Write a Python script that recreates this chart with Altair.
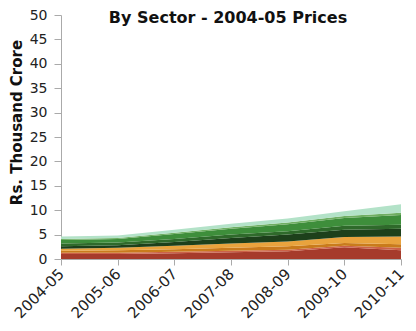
import altair as alt
import pandas as pd

years = ["2004-05", "2005-06", "2006-07", "2007-08", "2008-09", "2009-10", "2010-11"]
sectors = ["S1", "S2", "S3", "S4", "S5", "S6", "S7", "S8", "S9"]
colors = ["#a63b2b", "#cc6248", "#c97b1c", "#e9a33d", "#1d401b", "#2f6a2b", "#3e8e3b", "#6fae62", "#b3e2c8"]
s1 = [1.0, 1.0, 1.2, 1.4, 1.6, 2.4, 1.8]
s2 = [0.3, 0.3, 0.3, 0.3, 0.3, 0.3, 0.5]
s3 = [0.4, 0.5, 0.5, 0.6, 0.7, 0.6, 0.7]
s4 = [0.4, 0.5, 0.7, 0.9, 1.0, 1.2, 1.6]
s5 = [0.5, 0.5, 0.8, 1.1, 1.4, 1.5, 1.6]
s6 = [0.6, 0.6, 0.6, 0.7, 0.7, 0.8, 0.8]
s7 = [0.7, 0.7, 1.0, 1.2, 1.4, 1.6, 2.0]
s8 = [0.2, 0.2, 0.3, 0.3, 0.4, 0.4, 0.5]
s9 = [0.5, 0.5, 0.6, 0.7, 0.8, 1.0, 1.7]
series = [s1, s2, s3, s4, s5, s6, s7, s8, s9]

rows = []
for i, (name, vals) in enumerate(zip(sectors, series)):
    for y, v in zip(years, vals):
        rows.append({"year": y, "sector": name, "order": i, "value": v})
df = pd.DataFrame(rows)

area = alt.Chart(df).mark_area(opacity=1).encode(
    x=alt.X("year:O", scale=alt.Scale(type="point", padding=0), sort=years,
            axis=alt.Axis(title=None, labelAngle=-45, labelFontSize=15, labelColor="#222",
                          labelAlign="right", labelBaseline="middle",
                          domainColor="#aaa", tickColor="#aaa", tickSize=6, labelPadding=6,
                          labelFont="DejaVu Sans")),
    y=alt.Y("value:Q", stack="zero", scale=alt.Scale(domain=[0, 50]),
            axis=alt.Axis(title="Rs. Thousand Crore", titleFont="DejaVu Sans", titleFontSize=15,
                          titleFontWeight="bold", titleColor="#111", values=list(range(0, 51, 5)),
                          labelFontSize=14, labelColor="#222", labelFont="DejaVu Sans",
                          grid=False, domainColor="#aaa", tickColor="#aaa", tickSize=7,
                          labelPadding=7, titleY=107, titleX=-45, titleBaseline="middle",
                          titleAlign="center", titleAngle=-90)),
    color=alt.Color("sector:N", scale=alt.Scale(domain=sectors, range=colors), legend=None),
    order=alt.Order("order:Q"),
)

title = alt.Chart(pd.DataFrame({"t": ["By Sector - 2004-05 Prices"]})).mark_text(
    font="DejaVu Sans", fontSize=16, fontWeight="bold", color="#111", baseline="alphabetic", align="center"
).encode(text="t:N", x=alt.value(167), y=alt.value(8))

chart = alt.layer(area, title).properties(
    width=340, height=244,
    autosize=alt.AutoSizeParams(type="none"),
    padding={"left": 53, "top": 7, "right": 7, "bottom": 64},
).configure_view(stroke=None)
chart.save("out.html", embed_options={"renderer": "svg", "actions": False})
